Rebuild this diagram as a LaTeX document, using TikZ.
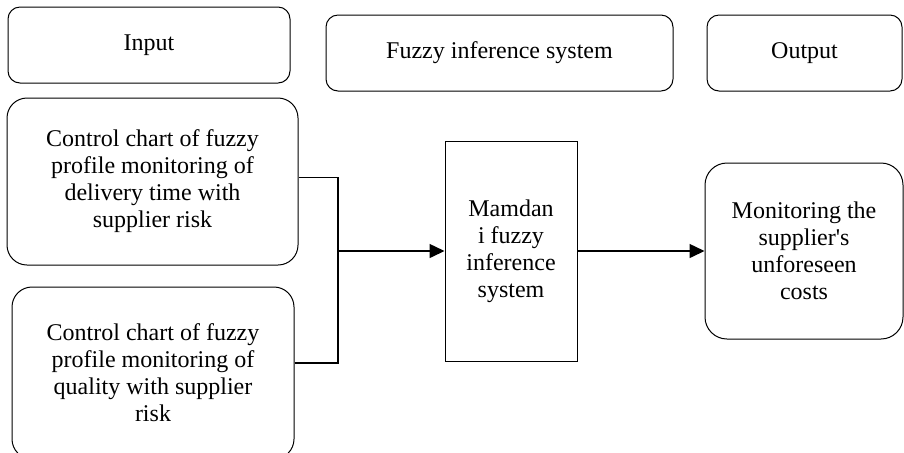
\documentclass[tikz,border=0pt]{standalone}
\usepackage{fontspec}
\setmainfont{Liberation Serif}
\usepackage{tikz}
\usetikzlibrary{arrows.meta}

\begin{document}
\begin{tikzpicture}[x=0.5pt,y=-0.5pt,
          font=\fontsize{12}{13.5}\selectfont,
          >={Triangle[length=7.5pt,width=7pt]},
          headbox/.style={draw, rounded corners=6pt, line width=0.5pt, minimum height=38pt, inner sep=0pt},
          roundbox/.style={draw, rounded corners=10pt, line width=0.5pt, align=center, inner sep=0pt},
          link/.style={line width=0.75pt}]
          \useasboundingbox (0,0) rectangle (904,452);
          % Nodes
          \node[headbox, minimum width=141pt] (input) at (149,45) {Input};
          \node[headbox, minimum width=173.5pt] (fis) at (499.5,53) {Fuzzy inference system};
          \node[headbox, minimum width=97.5pt] (output) at (804.5,53) {Output};
          \node[roundbox, minimum width=145.5pt, minimum height=83.5pt] (delivery) at (152.5,181.5)
            {Control chart of fuzzy\\profile monitoring of\\delivery time with\\supplier risk};
          \node[roundbox, minimum width=141pt, minimum height=86pt] (quality) at (153,373)
            {Control chart of fuzzy\\profile monitoring of\\quality with supplier\\risk};
          \node[draw, rectangle, line width=0.5pt, align=center, inner sep=0pt,
            minimum width=66pt, minimum height=110pt] (mamdani) at (511,251)
            {Mamdan\\i fuzzy\\inference\\system};
          \node[roundbox, rounded corners=11pt, minimum width=99pt, minimum height=88pt] (monitor) at (804,251)
            {Monitoring the\\supplier\textquotesingle s\\unforeseen\\costs};
          \coordinate (join) at (338,251);

          % Arrows
          \draw[link] ([yshift=2pt]delivery.east) -| (join);
          \draw[link] ([yshift=5pt]quality.east) -| (join);
          \draw[link, ->] (join) -- (mamdani);
          \draw[link, ->] (mamdani) -- (monitor);
        \end{tikzpicture}
\end{document}
